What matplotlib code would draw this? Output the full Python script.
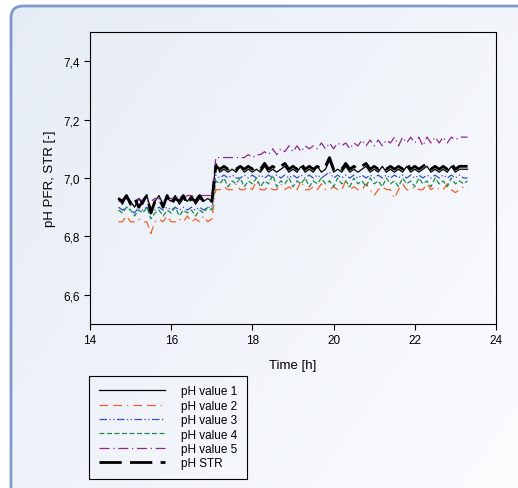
import numpy as np
import matplotlib.pyplot as plt
from matplotlib.patches import FancyBboxPatch
from matplotlib.ticker import FuncFormatter

plt.rcParams['font.family'] = ['Liberation Sans', 'DejaVu Sans']

# time [h]
t = [14.7, 14.8, 14.9, 15.0, 15.1, 15.2, 15.3, 15.4, 15.5, 15.6, 15.7, 15.8, 15.9, 16.0,
     16.1, 16.2, 16.3, 16.4, 16.5, 16.6, 16.7, 16.8, 16.9, 17.0,
     17.1, 17.2, 17.3, 17.4, 17.5, 17.6, 17.7, 17.8, 17.9, 18.0, 18.1, 18.2, 18.3, 18.4,
     18.5, 18.6, 18.7, 18.8, 18.9, 19.0, 19.1, 19.2, 19.3, 19.4, 19.5, 19.6, 19.7, 19.8,
     19.9, 20.0, 20.1, 20.2, 20.3, 20.4, 20.5, 20.6, 20.7, 20.8, 20.9, 21.0, 21.1, 21.2,
     21.3, 21.4, 21.5, 21.6, 21.7, 21.8, 21.9, 22.0, 22.1, 22.2, 22.3, 22.4, 22.5, 22.6,
     22.7, 22.8, 22.9, 23.0, 23.1, 23.2, 23.3]

ph1 = [6.93, 6.91, 6.94, 6.92, 6.90, 6.93, 6.91, 6.94, 6.89, 6.92, 6.94, 6.91, 6.93, 6.92,
       6.94, 6.91, 6.93, 6.92, 6.94, 6.91, 6.93, 6.92, 6.93, 6.92,
       7.05, 7.02, 7.03, 7.02, 7.03, 7.02, 7.04, 7.02, 7.03, 7.02, 7.03, 7.02, 7.04, 7.02,
       7.03, 7.02, 7.03, 7.04, 7.02, 7.03, 7.02, 7.04, 7.02, 7.03, 7.02, 7.04, 7.02, 7.03,
       7.06, 7.02, 7.03, 7.02, 7.04, 7.02, 7.03, 7.02, 7.03, 7.04, 7.02, 7.03, 7.02, 7.04,
       7.02, 7.03, 7.02, 7.03, 7.02, 7.04, 7.02, 7.03, 7.02, 7.03, 7.04, 7.02, 7.03, 7.02,
       7.03, 7.02, 7.04, 7.02, 7.03, 7.03, 7.03]

ph2 = [6.85, 6.85, 6.87, 6.85, 6.85, 6.86, 6.85, 6.85, 6.81, 6.85, 6.86, 6.85, 6.87, 6.85,
       6.85, 6.86, 6.85, 6.87, 6.85, 6.86, 6.85, 6.87, 6.85, 6.86,
       6.96, 6.96, 6.97, 6.96, 6.96, 6.98, 6.96, 6.96, 6.97, 6.96, 6.99, 6.96, 6.96, 6.97,
       6.96, 6.96, 6.98, 6.96, 6.97, 6.96, 6.96, 6.99, 6.96, 6.96, 6.97, 6.96, 6.98, 6.96,
       6.96, 6.97, 6.96, 6.96, 6.99, 6.96, 6.97, 6.96, 6.96, 6.98, 6.96, 6.94, 6.96, 6.97,
       6.96, 6.96, 6.93, 6.96, 6.98, 6.96, 6.96, 6.97, 6.96, 6.96, 6.98, 6.96, 6.97, 6.96,
       6.96, 6.98, 6.96, 6.95, 6.96, 6.97, 6.96]

ph3 = [6.90, 6.89, 6.90, 6.89, 6.88, 6.90, 6.89, 6.90, 6.88, 6.89, 6.90, 6.89, 6.90, 6.89,
       6.90, 6.89, 6.90, 6.89, 6.90, 6.89, 6.90, 6.89, 6.90, 6.90,
       7.01, 7.00, 7.01, 7.00, 7.01, 7.00, 7.00, 7.01, 7.00, 7.01, 7.00, 7.01, 7.00, 7.01,
       7.00, 7.01, 7.00, 7.01, 7.00, 7.01, 7.00, 7.01, 7.00, 7.01, 7.00, 7.01, 7.00, 7.01,
       7.02, 7.00, 7.01, 7.00, 7.01, 7.00, 7.01, 7.00, 7.01, 7.00, 7.01, 7.00, 7.01, 7.00,
       7.01, 7.00, 7.01, 7.00, 7.01, 7.00, 7.01, 7.00, 7.01, 7.00, 7.01, 7.00, 7.01, 7.00,
       7.01, 7.00, 7.01, 7.00, 7.01, 7.00, 7.00]

ph4 = [6.89, 6.88, 6.90, 6.89, 6.87, 6.89, 6.88, 6.90, 6.86, 6.88, 6.89, 6.87, 6.89, 6.88,
       6.90, 6.87, 6.89, 6.88, 6.89, 6.87, 6.89, 6.88, 6.90, 6.89,
       6.99, 6.98, 7.00, 6.97, 6.99, 6.98, 7.00, 6.97, 6.99, 6.98, 7.00, 6.97, 6.99, 6.98,
       7.01, 6.97, 6.99, 6.98, 7.00, 6.97, 6.99, 6.98, 7.00, 6.97, 6.99, 6.98, 7.00, 6.98,
       6.99, 6.97, 7.00, 6.98, 6.99, 6.97, 7.00, 6.98, 6.99, 6.97, 7.00, 6.98, 6.99, 6.97,
       7.00, 6.98, 6.99, 6.97, 7.00, 6.98, 6.99, 6.97, 7.00, 6.98, 6.99, 6.97, 7.00, 6.98,
       6.99, 6.97, 7.00, 6.98, 6.99, 6.98, 6.99]

ph5 = [6.92, 6.92, 6.93, 6.92, 6.92, 6.93, 6.92, 6.92, 6.92, 6.93, 6.93, 6.92, 6.93, 6.93,
       6.93, 6.94, 6.93, 6.94, 6.94, 6.93, 6.94, 6.94, 6.94, 6.94,
       7.07, 7.07, 7.07, 7.07, 7.07, 7.07, 7.07, 7.07, 7.08, 7.07, 7.08, 7.08, 7.09, 7.08,
       7.10, 7.08, 7.10, 7.09, 7.11, 7.09, 7.11, 7.09, 7.11, 7.10, 7.11, 7.10, 7.12, 7.10,
       7.12, 7.10, 7.12, 7.11, 7.12, 7.10, 7.12, 7.11, 7.13, 7.11, 7.13, 7.11, 7.13, 7.11,
       7.13, 7.12, 7.14, 7.11, 7.14, 7.12, 7.14, 7.12, 7.14, 7.11, 7.14, 7.12, 7.14, 7.12,
       7.14, 7.12, 7.14, 7.13, 7.14, 7.14, 7.14]

ph_str = [6.93, 6.92, 6.94, 6.91, 6.93, 6.90, 6.92, 6.94, 6.88, 6.92, 6.93, 6.90, 6.94, 6.91,
          6.93, 6.92, 6.94, 6.91, 6.93, 6.92, 6.94, 6.92, 6.93, 6.92,
          7.04, 7.03, 7.04, 7.03, 7.04, 7.03, 7.04, 7.03, 7.04, 7.03, 7.04, 7.03, 7.05, 7.03,
          7.04, 7.03, 7.04, 7.05, 7.03, 7.04, 7.03, 7.05, 7.03, 7.04, 7.03, 7.04, 7.03, 7.04,
          7.07, 7.03, 7.04, 7.03, 7.05, 7.03, 7.04, 7.03, 7.04, 7.05, 7.03, 7.04, 7.03, 7.04,
          7.03, 7.04, 7.03, 7.04, 7.03, 7.05, 7.03, 7.04, 7.03, 7.04, 7.05, 7.03, 7.04, 7.03,
          7.04, 7.03, 7.05, 7.03, 7.04, 7.04, 7.04]

labels = ['pH value 1', 'pH value 2', 'pH value 3', 'pH value 4', 'pH value 5', 'pH STR']

fig = plt.figure(figsize=(5.18, 4.89), dpi=100, facecolor='white')

# background panel with rounded corner and soft gradient
bg = fig.add_axes([0, 0, 1, 1])
bg.set_xlim(0, 518)
bg.set_ylim(489, 0)
bg.axis('off')
gx, gy = np.meshgrid(np.linspace(0, 1, 200), np.linspace(0, 1, 200))
g = (gx * 0.6 + gy * 0.4)
im = bg.imshow(g, extent=(0, 518, 489, 0), cmap=plt.matplotlib.colors.LinearSegmentedColormap.from_list(
    'bgc', ['#e6ecf5', '#fbfcfe']), aspect='auto', zorder=0)
panel = FancyBboxPatch((11, 7), 530, 500, boxstyle='round,pad=0,rounding_size=12',
                       facecolor='none', edgecolor='#7d9ac8', lw=2, zorder=1)
bg.add_patch(panel)
im.set_clip_path(panel)

ax = fig.add_axes([0.1737, 0.3354, 0.7838, 0.5971])
ax.set_facecolor('none')

ax.plot(t, ph1, color='black', lw=0.9, label=labels[0])
ax.plot(t, ph2, color='#f0602e', lw=0.9, ls=(0, (7, 4, 7, 4, 1, 4)), label=labels[1])
ax.plot(t, ph3, color='#2f52c0', lw=0.9, ls=(0, (6, 2, 1, 2, 1, 2)), label=labels[2])
ax.plot(t, ph4, color='#1f8a4c', lw=0.9, ls=(0, (4, 2)), label=labels[3])
ax.plot(t, ph5, color='#8c2a86', lw=0.9, ls=(0, (8, 3, 1, 3)), label=labels[4])
ax.plot(t, ph_str, color='black', lw=2, ls=(0, (8, 3)), label=labels[5])

ax.set_xlim(14, 24)
ax.set_ylim(6.5, 7.5)
ax.set_xticks([14, 16, 18, 20, 22, 24])
ax.set_yticks([6.6, 6.8, 7.0, 7.2, 7.4])
ax.yaxis.set_major_formatter(FuncFormatter(lambda v, p: f'{v:.1f}'.replace('.', ',')))
ax.tick_params(direction='out', length=4, labelsize=8.5, width=0.8)
for s in ax.spines.values():
    s.set_linewidth(0.8)
ax.set_xlabel('Time [h]', fontsize=9.5, labelpad=9)
ax.set_ylabel('pH PFR, STR [-]', fontsize=9.5, labelpad=5)

h, l = ax.get_legend_handles_labels()
leg = fig.legend(h, l, loc='upper left', bbox_to_anchor=(0.172, 0.229), fontsize=8.5,
                 frameon=True, fancybox=False, edgecolor='black', framealpha=1,
                 handlelength=5.6, handletextpad=1.4, labelspacing=0.2, borderpad=0.8,
                 borderaxespad=0)
leg.get_frame().set_linewidth(0.8)
leg.get_frame().set_facecolor('none')

fig.savefig('out.png', dpi=100, facecolor=fig.get_facecolor())
